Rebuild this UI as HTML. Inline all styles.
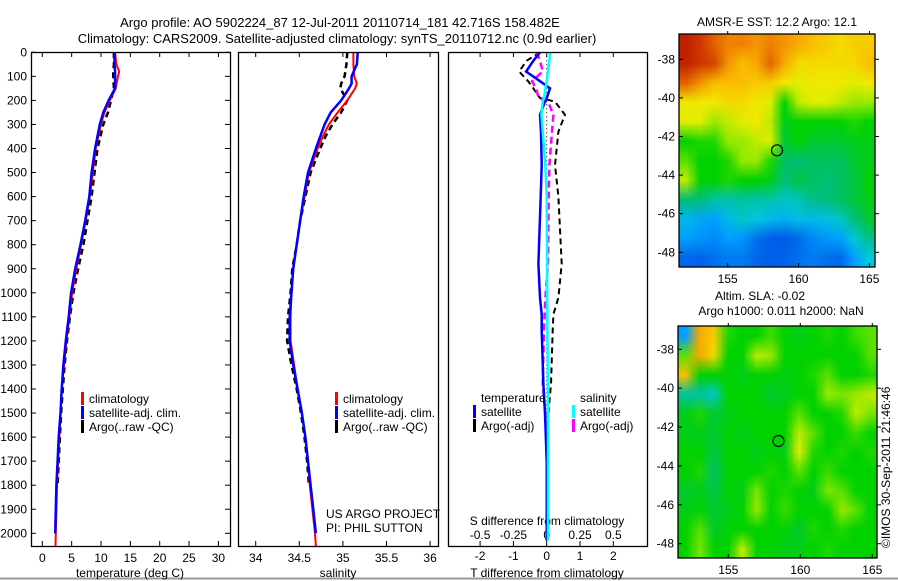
<!DOCTYPE html>
<html><head><meta charset="utf-8">
<style>
html,body{margin:0;padding:0;background:#fff;}
#wrap{position:relative;width:898px;height:581px;overflow:hidden;font-family:"Liberation Sans",sans-serif;}
svg{position:absolute;left:0;top:0;}
canvas{position:absolute;}
text{font-family:"Liberation Sans",sans-serif;font-size:12px;fill:#000;}
</style></head>
<body>
<div id="wrap">
<canvas id="sst" style="left:679px;top:34px;width:196px;height:233px" width="196" height="233"></canvas>
<canvas id="sla" style="left:678px;top:326px;width:199px;height:232px" width="199" height="232"></canvas>
<svg id="fig" width="898" height="581" xmlns="http://www.w3.org/2000/svg">
<text x="340" y="27" text-anchor="middle" style="font-size:13px">Argo profile: AO 5902224_87 12-Jul-2011 20110714_181 42.716S 158.482E</text>
<text x="337" y="43" text-anchor="middle" style="font-size:13px">Climatology: CARS2009. Satellite-adjusted climatology: synTS_20110712.nc (0.9d earlier)</text>
<text x="777" y="26" text-anchor="middle">AMSR-E SST: 12.2 Argo: 12.1</text>
<text x="760" y="300" text-anchor="middle">Altim. SLA: -0.02</text>
<text x="781" y="315" text-anchor="middle">Argo h1000: 0.011 h2000: NaN</text>
<text transform="translate(890,548) rotate(-90)">©IMOS 30-Sep-2011 21:46:46</text>
<line x1="0" y1="578.5" x2="898" y2="578.5" stroke="#999" stroke-width="2"/>
<g id="g"></g>
</svg>
</div>
<script>
// ---- data ----
const tDepth=[0,50,80,100,150,200,250,300,400,500,600,700,800,900,1000,1100,1200,1300,1400,1500,1600,1700,1800,1900,2000,2055];
const climT=[12.4,12.6,13.1,12.9,12.5,11.5,10.6,10.0,9.1,8.6,8.1,7.4,6.6,5.8,5.1,4.6,4.1,3.7,3.3,3.1,2.9,2.7,2.5,2.4,2.3,2.25];
const satT=[12.3,12.3,12.4,12.4,12.4,11.3,10.4,9.8,9.0,8.4,8.0,7.3,6.5,5.6,4.9,4.5,4.0,3.6,3.3,3.1,2.8,2.6,2.4,2.3,2.2];
const argoT=[12.2,12.2,12.1,12.1,12.2,11.7,11.2,10.4,9.4,8.9,8.4,7.7,7.0,6.1,5.3,4.7,4.2,3.8,3.5,3.2,3.0,2.8,2.6];
const sDepth=[0,50,100,130,150,200,250,300,350,400,500,600,700,800,900,1000,1100,1200,1300,1400,1500,1600,1700,1800,1900,2000,2055];
const climS=[35.12,35.12,35.13,35.16,35.14,35.05,34.94,34.84,34.77,34.71,34.61,34.56,34.51,34.47,34.43,34.41,34.40,34.40,34.44,34.48,34.53,34.57,34.60,34.62,34.65,34.68,34.69];
const satS=[35.17,35.16,35.10,35.10,35.07,34.98,34.86,34.79,34.74,34.69,34.60,34.55,34.51,34.47,34.43,34.41,34.39,34.39,34.43,34.48,34.53,34.57,34.60,34.63,34.66,34.69];
const argoS=[35.05,35.04,35.02,34.98,34.97,35.05,34.98,34.88,34.80,34.74,34.63,34.57,34.51,34.47,34.42,34.40,34.37,34.36,34.41,34.47,34.52,34.56,34.59,34.61];
const dDepth=[0,35,80,120,150,190,205,260,330,470,600,880,1020,1090,1155,1380,1500,1700,2000,2030];
const dTsat=[-0.2,-0.4,-0.62,-0.2,0.1,0.0,-0.05,-0.2,-0.17,-0.15,-0.18,-0.25,-0.2,-0.15,-0.15,-0.1,-0.05,0,0,0];
const dTargo=[-0.2,-0.6,-0.83,-0.56,-0.4,-0.2,0.25,0.55,0.35,0.25,0.35,0.45,0.35,0.2,0.18,0.13,0.05];
const dSsat=[0.025,0.02,0.01,0.0,-0.01,-0.02,-0.03,-0.04,-0.03,-0.01,0,0.003,0.003,0.005,0.005,0.01,0.01,0.01,0.01,0.01];
const dSargo=[-0.075,-0.05,-0.03,-0.11,-0.08,-0.06,0.01,0.05,0.04,0.02,0.015,0.01,-0.01,-0.015,-0.02,-0.03,-0.01,0];
const depthTicks=[0,100,200,300,400,500,600,700,800,900,1000,1100,1200,1300,1400,1500,1600,1700,1800,1900,2000];
const tTicks=[0,5,10,15,20,25,30];
const sTicks=[34,34.5,35,35.5,36];
const dtTicks=[-2,-1,0,1,2];
const dsTicks=[-0.5,-0.25,0,0.25,0.5];
const dsTickLabels=["-0.5","-0.25","0","0.25","0.5"];
const latTicks=[-38,-40,-42,-44,-46,-48];
const lonTicks=[155,160,165];
const argoLon=158.482, argoLat=-42.716;
const sstGrid=[
[.95,.93,.9,.88,.88,.86,.88,.86,.84,.82,.8,.78,.8,.8],
[.95,.93,.92,.86,.82,.84,.9,.84,.78,.78,.78,.78,.78,.82],
[.9,.86,.82,.82,.82,.8,.8,.76,.74,.76,.76,.76,.74,.76],
[.76,.76,.76,.78,.78,.76,.74,.6,.72,.74,.74,.72,.7,.7],
[.74,.74,.7,.72,.74,.76,.72,.58,.6,.6,.6,.6,.62,.6],
[.6,.62,.62,.7,.7,.72,.74,.56,.6,.56,.56,.56,.58,.58],
[.66,.6,.6,.62,.7,.7,.62,.52,.5,.52,.52,.52,.56,.58],
[.72,.6,.6,.62,.6,.6,.58,.5,.54,.52,.5,.52,.54,.6],
[.5,.5,.45,.45,.46,.45,.45,.42,.44,.48,.5,.52,.55,.58],
[.36,.32,.3,.36,.42,.4,.36,.34,.38,.36,.38,.42,.5,.56],
[.3,.28,.25,.3,.28,.2,.16,.15,.18,.25,.28,.3,.4,.48],
[.18,.17,.2,.22,.22,.18,.16,.17,.2,.22,.2,.18,.3,.4]];
const slaGrid=[
[.3,.84,.8,.62,.6,.6,.64,.6,.58,.6,.62,.6,.64,.66],
[.66,.84,.78,.6,.6,.72,.7,.6,.6,.6,.6,.6,.6,.66],
[.82,.6,.6,.6,.58,.6,.6,.58,.6,.62,.66,.6,.6,.62],
[.46,.46,.42,.6,.6,.6,.56,.58,.6,.6,.7,.68,.7,.72],
[.58,.62,.56,.58,.6,.6,.6,.6,.66,.6,.6,.62,.72,.68],
[.58,.58,.56,.6,.58,.6,.6,.6,.72,.66,.6,.6,.64,.6],
[.6,.6,.54,.6,.6,.58,.6,.58,.74,.62,.6,.62,.6,.62],
[.6,.62,.52,.6,.6,.6,.62,.6,.66,.6,.64,.6,.6,.6],
[.56,.58,.54,.6,.58,.68,.6,.62,.6,.58,.68,.66,.6,.6],
[.58,.6,.56,.58,.6,.7,.6,.64,.6,.6,.6,.7,.66,.6],
[.6,.66,.56,.6,.6,.6,.6,.6,.56,.62,.6,.62,.6,.6],
[.6,.68,.6,.6,.72,.6,.6,.58,.58,.6,.62,.6,.6,.6]];
// ---- scales ----
const yD=d=>52.3+d*0.2405;
const xT=t=>42.3+t*5.87;
const xS=s=>255.7+(s-34)*87.2;
const xDT=v=>546.7+v*33.3;
const xDS=v=>546.7+v*133.3;
const m1x=l=>727.7+(l-155)*14.17, m1y=l=>59.3+(-38-l)*19.3;
const m2x=l=>728.3+(l-155)*14.4, m2y=l=>349.3+(-38-l)*19.44;
const NS='http://www.w3.org/2000/svg';
const G=document.getElementById('g');
function mk(tag,attrs,parent){const e=document.createElementNS(NS,tag);for(const k in attrs)e.setAttribute(k,attrs[k]);(parent||G).appendChild(e);return e;}
function txt(x,y,s,anchor,parent){const e=mk('text',{x:x,y:y,'text-anchor':anchor||'start'},parent);e.textContent=s;return e;}
function line(vals,depths,xf,color,w,dash,name){
  let p='';const n=Math.min(vals.length,depths.length);
  for(let i=0;i<n;i++)p+=(i?'L':'M')+xf(vals[i]).toFixed(1)+','+yD(depths[i]).toFixed(1);
  const e=mk('path',{d:p,fill:'none',stroke:color,'stroke-width':w});
  if(dash)e.setAttribute('stroke-dasharray',dash);
  
  
}
const panels=[[31,230],[238,438],[448,647]];
const pTop=52,pBot=546;
// depth tick labels
depthTicks.forEach(d=>{
  const t=txt(27,yD(d)+4,String(d),'end');
  
  
  mk('line',{x1:31,x2:36,y1:yD(d),y2:yD(d),stroke:'#000'});
  mk('line',{x1:225,x2:230,y1:yD(d),y2:yD(d),stroke:'#000'});
});
// x ticks
function xticks(ticks,xf,labels,ly){
  ticks.forEach((v,i)=>{const x=xf(v);
    mk('line',{x1:x,x2:x,y1:pTop,y2:pTop+5,stroke:'#000'});
    mk('line',{x1:x,x2:x,y1:pBot,y2:pBot-5,stroke:'#000'});
    if(labels){const t=txt(x,ly,labels[i],'middle');
      
      }
  });
}
xticks(tTicks,xT,tTicks.map(String),562);
xticks(sTicks,xS,sTicks.map(String),562);
xticks(dtTicks,xDT,dtTicks.map(String),560);
dsTicks.forEach((v,i)=>{const t=txt(xDS(v),539,dsTickLabels[i],'middle');
  
  });
// axis titles
[[130,577,'temperature (deg C)','x-axis-title-temperature'],[338,577,'salinity','x-axis-title-salinity'],[547,577,'T difference from climatology','x-axis-title-t-diff'],[547,525,'S difference from climatology','x-axis-title-s-diff']].forEach(a=>{
  const t=txt(a[0],a[1],a[2],'middle');
  
  });
// zero dotted line
mk('line',{x1:xDT(0),x2:xDT(0),y1:yD(0),y2:yD(2040),stroke:'#000','stroke-dasharray':'1,3','stroke-width':1});
// profiles
line(argoT,tDepth,xT,'#000',2.5,'6,4','argo-temperature-line');
line(climT,tDepth,xT,'#f00',2,null,'climatology-temperature-line');
line(satT,tDepth,xT,'#00f',2.5,null,'satellite-temperature-line');
line(argoS,sDepth,xS,'#000',2.5,'6,4','argo-salinity-line');
line(climS,sDepth,xS,'#f00',2,null,'climatology-salinity-line');
line(satS,sDepth,xS,'#00f',2.5,null,'satellite-salinity-line');
line(dTargo,dDepth,xDT,'#000',2,'6,4','argo-t-diff-line');
line(dSargo,dDepth,xDS,'#f0f',2.5,'7,4','argo-s-diff-line');
line(dTsat,dDepth,xDT,'#00f',2.5,null,'satellite-t-diff-line');
line(dSsat,dDepth,xDS,'#0ff',2.5,null,'satellite-s-diff-line');
// panel frames
panels.forEach((p,i)=>{const r=mk('rect',{x:p[0]+.5,y:pTop+.5,width:p[1]-p[0],height:pBot-pTop,fill:'none',stroke:'#000','stroke-width':1.3});
  
  });
// legends
function legend(x,y,color,label){mk('rect',{x:x,y:y-11,width:3,height:13,fill:color});
  const t=txt(x+8,y,label);
  
  }
legend(81,403,'#f00','climatology');legend(81,417,'#00f','satellite-adj. clim.');legend(81,431,'#000','Argo(..raw -QC)');
legend(335,403,'#f00','climatology');legend(335,417,'#00f','satellite-adj. clim.');legend(335,431,'#000','Argo(..raw -QC)');
txt(481,402,'temperature');txt(580,402,'salinity');
legend(473,416,'#00f','satellite');legend(473,430,'#000','Argo(-adj)');
legend(572,416,'#0ff','satellite');legend(572,430,'#f0f','Argo(-adj)');
txt(326,518,'US ARGO PROJECT');txt(326,532,'PI: PHIL SUTTON');
// maps
const stops=[[0,[0,0,180]],[.15,[0,90,230]],[.3,[0,160,255]],[.4,[0,200,220]],[.5,[0,190,120]],[.6,[0,210,0]],[.68,[120,230,0]],[.75,[240,240,0]],[.82,[250,190,0]],[.88,[240,130,0]],[.94,[200,40,0]],[1,[160,0,0]]];
function cmap(v){for(let i=1;i<stops.length;i++){if(v<=stops[i][0]){const a=stops[i-1],b=stops[i],f=(v-a[0])/(b[0]-a[0]);return a[1].map((c,k)=>Math.round(c+(b[1][k]-c)*f));}}return stops[stops.length-1][1];}
function drawMap(id,grid,smooth){const c=document.getElementById(id),ctx=c.getContext('2d');
  const rows=grid.length,cols=grid[0].length,o=document.createElement('canvas');o.width=cols;o.height=rows;
  const octx=o.getContext('2d'),img=octx.createImageData(cols,rows);
  grid.forEach((r,i)=>r.forEach((v,j)=>{const col=cmap(v),k=(i*cols+j)*4;img.data[k]=col[0];img.data[k+1]=col[1];img.data[k+2]=col[2];img.data[k+3]=255;}));
  octx.putImageData(img,0,0);ctx.imageSmoothingEnabled=smooth;ctx.drawImage(o,0,0,c.width,c.height);}
drawMap('sst',sstGrid,true);drawMap('sla',slaGrid,true);
function mapAxes(x0,y0,x1,y1,fx,fy,name){
  const r=mk('rect',{x:x0,y:y0,width:x1-x0,height:y1-y0,fill:'none',stroke:'#000','stroke-width':1.3});
  
  
  latTicks.forEach(l=>{const y=fy(l);mk('line',{x1:x0,x2:x0+4,y1:y,y2:y,stroke:'#000'});mk('line',{x1:x1,x2:x1+4,y1:y,y2:y,stroke:'#000'});
    const t=txt(x0-4,y+4,String(l),'end');
    
    });
  lonTicks.forEach(l=>{const x=fx(l);mk('line',{x1:x,x2:x,y1:y0-3,y2:y0,stroke:'#000'});mk('line',{x1:x,x2:x,y1:y1,y2:y1-4,stroke:'#000'});
    const t=txt(x,y1+16,String(l),'middle');
    
    });
  const c=mk('circle',{cx:fx(argoLon),cy:fy(argoLat),r:5.5,fill:'none',stroke:'#000','stroke-width':1.2});
  
  
}
mapAxes(679,34,875,267,m1x,m1y,'sst-map-frame');
mapAxes(678,326,877,558,m2x,m2y,'sla-map-frame');
</script>
</body></html>
